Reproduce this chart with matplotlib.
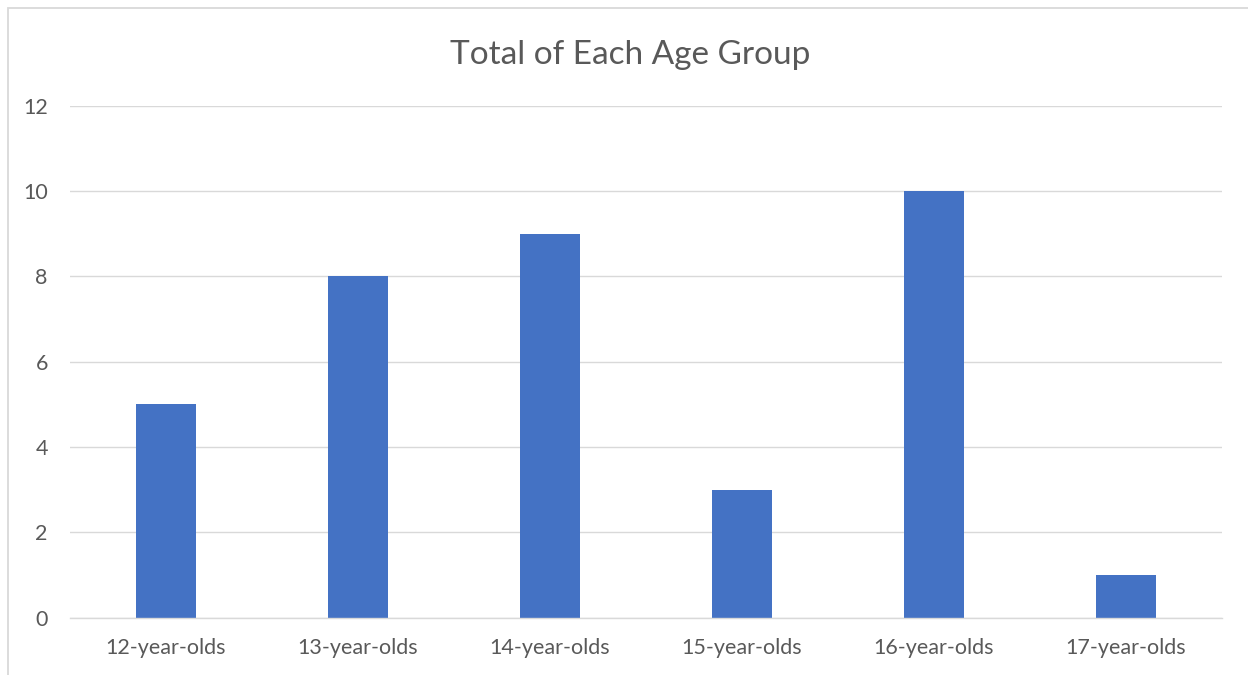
import matplotlib.pyplot as plt
import numpy as np
from matplotlib.patches import Rectangle

categories = ['12-year-olds', '13-year-olds', '14-year-olds',
              '15-year-olds', '16-year-olds', '17-year-olds']
totals = [5, 8, 9, 3, 10, 1]
y_ticks = [0, 2, 4, 6, 8, 10, 12]

plt.rcParams['font.family'] = ['Lato', 'DejaVu Sans']

fig = plt.figure(figsize=(12.48, 6.75), dpi=100)
ax = fig.add_axes([70 / 1248, 57.5 / 675, 1152 / 1248, 512 / 675])

# outer chart frame (right and bottom edges fall outside the image)
fig.patches.append(Rectangle((7.5 / 1248, -0.05), 1.1, 1.05 - 8 / 675,
                             transform=fig.transFigure, fill=False,
                             edgecolor='#D9D9D9', linewidth=1.3))

x = np.arange(len(categories))
ax.bar(x, totals, width=0.3125, color='#4472C4', zorder=3)

ax.set_xlim(-0.5, len(categories) - 0.5)
ax.set_ylim(0, 12)
ax.set_yticks(y_ticks)
ax.set_xticks(x)
ax.set_xticklabels(categories)
ax.grid(axis='y', color='#D9D9D9', linewidth=1, zorder=0)

for side in ['top', 'right', 'left']:
    ax.spines[side].set_visible(False)
ax.spines['bottom'].set_color('#D9D9D9')
ax.spines['bottom'].set_linewidth(1)
ax.spines['bottom'].set_zorder(4)

ax.tick_params(axis='both', length=0, labelsize=15.5, labelcolor='#595959')
ax.tick_params(axis='y', pad=16)
ax.tick_params(axis='x', pad=15)

fig.text(630 / 1248, 1 - 55 / 675, 'Total of Each Age Group', ha='center', va='center',
         fontsize=24, color='#595959')

fig.savefig('out.png', dpi=100)
